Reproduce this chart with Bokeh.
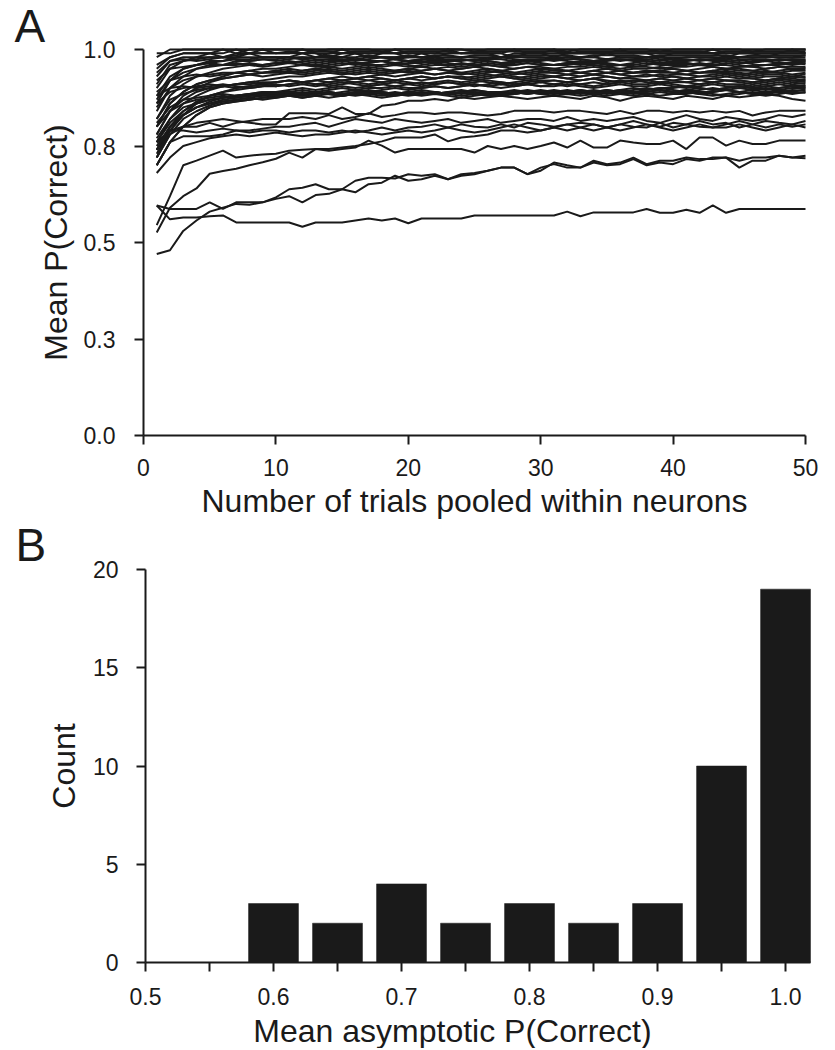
from bokeh.plotting import figure
from bokeh.layouts import column
from bokeh.models import FixedTicker, PrintfTickFormatter, Label
from bokeh.embed import file_html
from bokeh.resources import INLINE

# ---------------- data: panel A ----------------
trials = list(range(1, 51))

low_p = [0.596, 0.560, 0.565, 0.565, 0.568, 0.570, 0.552, 0.552, 0.552, 0.552,
         0.552, 0.541, 0.552, 0.552, 0.552, 0.557, 0.562, 0.557, 0.562, 0.550,
         0.562, 0.562, 0.562, 0.562, 0.570, 0.570, 0.570, 0.570, 0.570, 0.570,
         0.570, 0.580, 0.568, 0.578, 0.578, 0.578, 0.578, 0.587, 0.577, 0.577,
         0.585, 0.577, 0.596, 0.577, 0.587, 0.587, 0.587, 0.587, 0.587, 0.587]
low_r = [0.470, 0.480, 0.530, 0.557, 0.580, 0.590, 0.600, 0.598, 0.604, 0.613,
         0.620, 0.604, 0.623, 0.626, 0.638, 0.630, 0.651, 0.655, 0.673, 0.660,
         0.664, 0.673, 0.664, 0.673, 0.677, 0.686, 0.694, 0.694, 0.677, 0.694,
         0.703, 0.694, 0.694, 0.707, 0.700, 0.703, 0.716, 0.700, 0.707, 0.703,
         0.716, 0.712, 0.720, 0.720, 0.694, 0.712, 0.712, 0.725, 0.720, 0.725]
low_q = [0.596, 0.587, 0.587, 0.587, 0.604, 0.587, 0.604, 0.604, 0.604, 0.617,
         0.638, 0.642, 0.651, 0.638, 0.638, 0.660, 0.668, 0.668, 0.666, 0.677,
         0.673, 0.677, 0.664, 0.677, 0.680, 0.686, 0.694, 0.694, 0.677, 0.686,
         0.707, 0.700, 0.694, 0.712, 0.703, 0.707, 0.720, 0.703, 0.712, 0.712,
         0.720, 0.716, 0.716, 0.720, 0.712, 0.720, 0.720, 0.725, 0.720, 0.718]
low_s = [0.526, 0.590, 0.620, 0.640, 0.678, 0.685, 0.691, 0.700, 0.708, 0.717,
         0.733, 0.720, 0.742, 0.738, 0.742, 0.746, 0.764, 0.751, 0.733, 0.742,
         0.742, 0.742, 0.742, 0.742, 0.733, 0.750, 0.742, 0.750, 0.742, 0.750,
         0.759, 0.746, 0.764, 0.746, 0.746, 0.764, 0.759, 0.755, 0.755, 0.764,
         0.742, 0.772, 0.772, 0.751, 0.764, 0.755, 0.755, 0.764, 0.764, 0.764]
mid_t = [0.545, 0.620, 0.700, 0.712, 0.725, 0.738, 0.720, 0.725, 0.728, 0.730,
         0.738, 0.740, 0.742, 0.742, 0.746, 0.750, 0.755, 0.762, 0.772, 0.772,
         0.772, 0.780, 0.762, 0.772, 0.775, 0.780, 0.790, 0.790, 0.785, 0.790,
         0.798, 0.790, 0.798, 0.806, 0.798, 0.790, 0.798, 0.806, 0.798, 0.790,
         0.798, 0.806, 0.798, 0.798, 0.806, 0.798, 0.790, 0.798, 0.806, 0.798]
mid_u1 = [0.720, 0.780, 0.800, 0.810, 0.815, 0.820, 0.815, 0.810, 0.806, 0.806,
          0.835, 0.835, 0.835, 0.833, 0.850, 0.833, 0.833, 0.854, 0.858, 0.867,
          0.867, 0.872, 0.867, 0.876, 0.872, 0.876, 0.880, 0.876, 0.872, 0.876,
          0.880, 0.876, 0.872, 0.880, 0.876, 0.867, 0.876, 0.880, 0.876, 0.872,
          0.880, 0.876, 0.872, 0.880, 0.876, 0.880, 0.884, 0.880, 0.872, 0.867]
mid_u2 = [0.740, 0.790, 0.800, 0.800, 0.810, 0.800, 0.810, 0.815, 0.820, 0.820,
          0.820, 0.825, 0.820, 0.830, 0.820, 0.825, 0.835, 0.825, 0.830, 0.837,
          0.837, 0.833, 0.837, 0.837, 0.833, 0.829, 0.833, 0.841, 0.841, 0.841,
          0.837, 0.841, 0.841, 0.837, 0.833, 0.841, 0.833, 0.841, 0.841, 0.837,
          0.841, 0.837, 0.841, 0.837, 0.841, 0.829, 0.837, 0.841, 0.841, 0.841]
mid_u3 = [0.700, 0.760, 0.775, 0.775, 0.775, 0.780, 0.790, 0.790, 0.795, 0.800,
          0.800, 0.806, 0.810, 0.800, 0.810, 0.820, 0.815, 0.810, 0.820, 0.815,
          0.810, 0.815, 0.820, 0.810, 0.815, 0.820, 0.810, 0.815, 0.820, 0.820,
          0.815, 0.825, 0.815, 0.820, 0.815, 0.820, 0.825, 0.815, 0.810, 0.820,
          0.830, 0.820, 0.815, 0.825, 0.820, 0.815, 0.820, 0.830, 0.825, 0.832]
mid_u4 = [0.760, 0.790, 0.790, 0.785, 0.790, 0.795, 0.790, 0.785, 0.790, 0.790,
          0.785, 0.790, 0.790, 0.785, 0.790, 0.785, 0.790, 0.798, 0.790, 0.798,
          0.800, 0.806, 0.798, 0.806, 0.800, 0.798, 0.806, 0.798, 0.810, 0.806,
          0.800, 0.806, 0.810, 0.806, 0.798, 0.806, 0.815, 0.806, 0.800, 0.810,
          0.806, 0.815, 0.806, 0.810, 0.798, 0.806, 0.815, 0.810, 0.806, 0.815]
mid_u5 = [0.680, 0.720, 0.750, 0.760, 0.770, 0.775, 0.780, 0.775, 0.780, 0.785,
          0.780, 0.775, 0.780, 0.780, 0.785, 0.790, 0.785, 0.780, 0.785, 0.790,
          0.785, 0.790, 0.798, 0.790, 0.785, 0.790, 0.798, 0.806, 0.798, 0.790,
          0.798, 0.806, 0.798, 0.790, 0.798, 0.806, 0.800, 0.798, 0.810, 0.798,
          0.806, 0.800, 0.798, 0.806, 0.815, 0.806, 0.798, 0.806, 0.800, 0.806]

top_a01 = [0.98, 1.0, 1.0, 1.0, 1.0, 1.0, 1.0, 1.0, 1.0, 1.0,
           1.0, 1.0, 1.0, 1.0, 1.0, 1.0, 1.0, 1.0, 1.0, 1.0,
           1.0, 1.0, 1.0, 1.0, 1.0, 1.0, 1.0, 1.0, 1.0, 1.0,
           1.0, 1.0, 1.0, 1.0, 1.0, 1.0, 1.0, 1.0, 1.0, 1.0,
           1.0, 1.0, 1.0, 1.0, 1.0, 1.0, 1.0, 1.0, 1.0, 1.0]
top_a02 = [0.99, 0.99, 1.0, 1.0, 1.0, 1.0, 1.0, 1.0, 1.0, 1.0,
           1.0, 1.0, 1.0, 1.0, 1.0, 1.0, 1.0, 1.0, 1.0, 1.0,
           1.0, 1.0, 1.0, 1.0, 1.0, 1.0, 1.0, 1.0, 1.0, 1.0,
           1.0, 1.0, 1.0, 1.0, 1.0, 1.0, 1.0, 1.0, 1.0, 1.0,
           1.0, 1.0, 1.0, 1.0, 1.0, 1.0, 1.0, 1.0, 1.0, 1.0]
top_a03 = [0.96, 0.98, 0.99, 0.99, 0.99, 0.99, 1.0, 0.99, 1.0, 0.99,
           0.99, 1.0, 0.99, 0.99, 1.0, 0.99, 0.99, 0.99, 1.0, 0.99,
           0.99, 0.99, 1.0, 0.99, 0.99, 0.99, 0.99, 1.0, 0.99, 0.99,
           1.0, 0.99, 0.99, 0.99, 0.99, 1.0, 0.99, 0.99, 0.99, 0.99,
           0.99, 0.99, 1.0, 0.99, 0.99, 0.99, 0.99, 0.99, 1.0, 0.99]
top_a04 = [0.93, 0.97, 0.98, 0.98, 0.99, 0.98, 0.99, 0.99, 0.99, 0.99,
           0.99, 0.99, 0.98, 0.99, 0.99, 0.99, 0.99, 0.99, 0.99, 0.98,
           0.99, 0.99, 0.99, 0.99, 0.99, 0.99, 0.99, 0.98, 0.99, 0.99,
           0.99, 0.99, 0.99, 0.99, 0.99, 0.99, 0.99, 0.99, 0.99, 0.99,
           0.99, 0.99, 0.99, 0.98, 0.99, 0.99, 0.99, 0.99, 0.99, 0.99]
top_a05 = [0.90, 0.95, 0.97, 0.98, 0.98, 0.98, 0.98, 0.99, 0.98, 0.98,
           0.98, 0.99, 0.99, 0.98, 0.99, 0.99, 0.98, 0.99, 0.99, 0.99,
           0.99, 0.98, 0.99, 0.99, 0.99, 0.99, 0.98, 0.99, 0.99, 0.99,
           0.98, 0.99, 0.99, 0.99, 0.99, 0.99, 0.99, 0.99, 0.98, 0.99,
           0.99, 0.99, 0.99, 0.99, 0.99, 0.99, 0.98, 0.99, 0.99, 0.99]
top_a06 = [0.88, 0.93, 0.95, 0.96, 0.97, 0.97, 0.98, 0.98, 0.98, 0.98,
           0.98, 0.98, 0.98, 0.98, 0.98, 0.99, 0.98, 0.98, 0.98, 0.98,
           0.98, 0.98, 0.98, 0.98, 0.98, 0.98, 0.98, 0.98, 0.98, 0.98,
           0.98, 0.98, 0.98, 0.98, 0.99, 0.98, 0.98, 0.98, 0.98, 0.98,
           0.98, 0.98, 0.98, 0.98, 0.98, 0.98, 0.98, 0.98, 0.98, 0.985]
top_a07 = [0.86, 0.92, 0.95, 0.96, 0.965, 0.97, 0.975, 0.975, 0.98, 0.98,
           0.98, 0.975, 0.98, 0.985, 0.98, 0.98, 0.985, 0.98, 0.98, 0.985,
           0.98, 0.985, 0.985, 0.98, 0.985, 0.985, 0.98, 0.985, 0.985, 0.985,
           0.985, 0.985, 0.98, 0.985, 0.985, 0.985, 0.985, 0.98, 0.985, 0.985,
           0.985, 0.985, 0.985, 0.985, 0.98, 0.985, 0.985, 0.985, 0.985, 0.985]
top_a08 = [0.91, 0.96, 0.97, 0.975, 0.98, 0.98, 0.985, 0.99, 0.99, 0.99,
           0.995, 0.99, 0.995, 0.995, 0.99, 0.995, 0.995, 0.995, 0.99, 0.995,
           0.995, 0.995, 0.995, 0.99, 0.995, 0.995, 0.995, 0.995, 0.995, 0.995,
           0.995, 0.99, 0.995, 0.995, 0.995, 0.995, 0.995, 0.995, 0.995, 0.995,
           0.995, 0.995, 0.99, 0.995, 0.995, 0.995, 0.995, 0.995, 0.995, 0.995]
top_a09 = [0.84, 0.90, 0.93, 0.95, 0.96, 0.96, 0.97, 0.97, 0.975, 0.97,
           0.975, 0.98, 0.975, 0.975, 0.98, 0.975, 0.98, 0.98, 0.975, 0.98,
           0.98, 0.975, 0.98, 0.98, 0.98, 0.975, 0.98, 0.98, 0.98, 0.98,
           0.975, 0.98, 0.98, 0.98, 0.975, 0.98, 0.98, 0.98, 0.98, 0.975,
           0.98, 0.98, 0.98, 0.975, 0.98, 0.98, 0.98, 0.98, 0.98, 0.98]
top_a10 = [0.95, 0.98, 0.99, 0.99, 0.99, 1.0, 0.99, 1.0, 1.0, 1.0,
           1.0, 1.0, 0.995, 1.0, 1.0, 1.0, 1.0, 0.995, 1.0, 1.0,
           1.0, 1.0, 1.0, 1.0, 0.995, 1.0, 1.0, 1.0, 1.0, 1.0,
           1.0, 0.995, 1.0, 1.0, 1.0, 1.0, 1.0, 1.0, 0.995, 1.0,
           1.0, 1.0, 1.0, 1.0, 1.0, 0.995, 1.0, 1.0, 1.0, 1.0]

high_c1 = [0.82, 0.88, 0.91, 0.93, 0.94, 0.95, 0.955, 0.96, 0.96, 0.965,
           0.965, 0.97, 0.965, 0.97, 0.97, 0.975, 0.97, 0.97, 0.975, 0.97,
           0.975, 0.97, 0.975, 0.975, 0.97, 0.975, 0.98, 0.975, 0.97, 0.975,
           0.975, 0.98, 0.975, 0.97, 0.975, 0.975, 0.975, 0.98, 0.975, 0.975,
           0.97, 0.975, 0.975, 0.98, 0.975, 0.975, 0.97, 0.975, 0.975, 0.975]
high_c2 = [0.80, 0.86, 0.89, 0.91, 0.92, 0.93, 0.94, 0.945, 0.95, 0.95,
           0.955, 0.96, 0.955, 0.96, 0.965, 0.96, 0.965, 0.97, 0.965, 0.97,
           0.97, 0.965, 0.97, 0.97, 0.975, 0.97, 0.965, 0.97, 0.97, 0.97,
           0.975, 0.97, 0.965, 0.97, 0.97, 0.975, 0.97, 0.97, 0.965, 0.97,
           0.97, 0.975, 0.97, 0.97, 0.965, 0.97, 0.97, 0.975, 0.97, 0.97]
high_c3 = [0.87, 0.92, 0.94, 0.95, 0.955, 0.96, 0.96, 0.965, 0.96, 0.965,
           0.97, 0.965, 0.96, 0.965, 0.97, 0.965, 0.965, 0.97, 0.96, 0.965,
           0.965, 0.97, 0.965, 0.96, 0.965, 0.97, 0.965, 0.965, 0.97, 0.965,
           0.96, 0.965, 0.97, 0.965, 0.965, 0.96, 0.965, 0.97, 0.965, 0.965,
           0.965, 0.96, 0.965, 0.97, 0.965, 0.965, 0.97, 0.965, 0.965, 0.968]
high_c4 = [0.78, 0.84, 0.88, 0.90, 0.915, 0.925, 0.93, 0.935, 0.94, 0.945,
           0.95, 0.945, 0.95, 0.955, 0.95, 0.955, 0.96, 0.955, 0.96, 0.955,
           0.96, 0.965, 0.96, 0.955, 0.96, 0.965, 0.96, 0.96, 0.965, 0.96,
           0.96, 0.965, 0.96, 0.965, 0.96, 0.96, 0.955, 0.96, 0.965, 0.96,
           0.965, 0.96, 0.96, 0.965, 0.96, 0.955, 0.96, 0.965, 0.96, 0.965]
high_c5 = [0.92, 0.95, 0.955, 0.96, 0.965, 0.96, 0.965, 0.96, 0.955, 0.96,
           0.965, 0.96, 0.96, 0.955, 0.96, 0.965, 0.96, 0.96, 0.965, 0.96,
           0.955, 0.96, 0.96, 0.965, 0.96, 0.96, 0.955, 0.96, 0.965, 0.96,
           0.96, 0.96, 0.965, 0.96, 0.955, 0.96, 0.96, 0.965, 0.96, 0.96,
           0.96, 0.965, 0.96, 0.96, 0.955, 0.96, 0.96, 0.96, 0.965, 0.962]
high_c6 = [0.94, 0.97, 0.975, 0.97, 0.975, 0.98, 0.975, 0.97, 0.975, 0.975,
           0.98, 0.975, 0.97, 0.975, 0.975, 0.97, 0.975, 0.98, 0.975, 0.97,
           0.975, 0.975, 0.97, 0.975, 0.97, 0.975, 0.975, 0.97, 0.975, 0.975,
           0.97, 0.975, 0.975, 0.97, 0.975, 0.97, 0.975, 0.975, 0.97, 0.975,
           0.975, 0.97, 0.975, 0.975, 0.97, 0.975, 0.975, 0.97, 0.975, 0.972]

upper_d1 = [0.80, 0.86, 0.89, 0.91, 0.92, 0.925, 0.93, 0.935, 0.94, 0.94,
            0.945, 0.94, 0.945, 0.95, 0.945, 0.95, 0.955, 0.95, 0.945, 0.95,
            0.955, 0.95, 0.955, 0.95, 0.955, 0.96, 0.955, 0.95, 0.955, 0.955,
            0.95, 0.955, 0.955, 0.96, 0.955, 0.95, 0.955, 0.955, 0.95, 0.955,
            0.955, 0.96, 0.955, 0.95, 0.955, 0.955, 0.95, 0.955, 0.955, 0.955]
upper_d2 = [0.76, 0.82, 0.86, 0.88, 0.895, 0.905, 0.91, 0.915, 0.92, 0.925,
            0.93, 0.93, 0.935, 0.94, 0.935, 0.94, 0.945, 0.94, 0.945, 0.95,
            0.945, 0.95, 0.945, 0.95, 0.955, 0.95, 0.945, 0.95, 0.955, 0.95,
            0.95, 0.945, 0.95, 0.955, 0.95, 0.945, 0.95, 0.95, 0.955, 0.95,
            0.945, 0.95, 0.955, 0.95, 0.95, 0.945, 0.95, 0.955, 0.95, 0.952]
upper_d3 = [0.85, 0.90, 0.92, 0.93, 0.935, 0.94, 0.94, 0.945, 0.94, 0.945,
            0.94, 0.945, 0.95, 0.945, 0.94, 0.945, 0.95, 0.945, 0.945, 0.94,
            0.945, 0.95, 0.945, 0.94, 0.945, 0.95, 0.945, 0.94, 0.945, 0.95,
            0.945, 0.945, 0.94, 0.945, 0.95, 0.945, 0.94, 0.945, 0.945, 0.95,
            0.945, 0.94, 0.945, 0.95, 0.945, 0.945, 0.94, 0.945, 0.95, 0.948]
upper_d4 = [0.72, 0.79, 0.83, 0.86, 0.88, 0.89, 0.90, 0.905, 0.91, 0.915,
            0.92, 0.915, 0.92, 0.925, 0.93, 0.925, 0.93, 0.935, 0.93, 0.935,
            0.94, 0.935, 0.94, 0.935, 0.94, 0.945, 0.94, 0.935, 0.94, 0.945,
            0.94, 0.945, 0.94, 0.935, 0.94, 0.945, 0.94, 0.945, 0.94, 0.94,
            0.945, 0.94, 0.945, 0.94, 0.935, 0.94, 0.945, 0.94, 0.945, 0.945]
upper_d5 = [0.89, 0.92, 0.93, 0.935, 0.93, 0.935, 0.94, 0.935, 0.93, 0.935,
            0.94, 0.935, 0.94, 0.945, 0.94, 0.935, 0.94, 0.935, 0.94, 0.945,
            0.94, 0.935, 0.94, 0.94, 0.935, 0.94, 0.945, 0.94, 0.935, 0.94,
            0.94, 0.935, 0.94, 0.945, 0.94, 0.935, 0.94, 0.94, 0.945, 0.94,
            0.935, 0.94, 0.94, 0.945, 0.94, 0.935, 0.94, 0.94, 0.935, 0.94]
upper_d6 = [0.74, 0.80, 0.84, 0.865, 0.88, 0.89, 0.895, 0.90, 0.905, 0.905,
            0.91, 0.915, 0.91, 0.915, 0.92, 0.915, 0.92, 0.925, 0.92, 0.925,
            0.93, 0.925, 0.93, 0.925, 0.93, 0.935, 0.93, 0.925, 0.93, 0.935,
            0.93, 0.935, 0.93, 0.935, 0.94, 0.935, 0.93, 0.935, 0.93, 0.935,
            0.935, 0.93, 0.935, 0.94, 0.935, 0.93, 0.935, 0.935, 0.93, 0.936]

band_e1 = [0.78, 0.84, 0.87, 0.89, 0.90, 0.905, 0.91, 0.91, 0.915, 0.915,
           0.92, 0.915, 0.92, 0.925, 0.92, 0.925, 0.93, 0.925, 0.92, 0.925,
           0.93, 0.925, 0.93, 0.93, 0.925, 0.93, 0.935, 0.93, 0.925, 0.93,
           0.93, 0.925, 0.93, 0.935, 0.93, 0.925, 0.93, 0.93, 0.935, 0.93,
           0.925, 0.93, 0.93, 0.935, 0.93, 0.925, 0.93, 0.93, 0.925, 0.93]
band_e2 = [0.86, 0.89, 0.90, 0.905, 0.91, 0.905, 0.91, 0.915, 0.91, 0.915,
           0.92, 0.915, 0.92, 0.915, 0.92, 0.925, 0.92, 0.915, 0.92, 0.925,
           0.92, 0.925, 0.93, 0.925, 0.92, 0.925, 0.93, 0.925, 0.92, 0.925,
           0.93, 0.925, 0.92, 0.925, 0.93, 0.925, 0.925, 0.92, 0.925, 0.93,
           0.925, 0.92, 0.925, 0.93, 0.925, 0.925, 0.92, 0.925, 0.93, 0.927]
band_e3 = [0.73, 0.79, 0.83, 0.85, 0.865, 0.875, 0.88, 0.885, 0.89, 0.89,
           0.895, 0.90, 0.895, 0.90, 0.905, 0.90, 0.905, 0.91, 0.905, 0.91,
           0.915, 0.91, 0.915, 0.91, 0.915, 0.92, 0.915, 0.91, 0.915, 0.92,
           0.92, 0.915, 0.92, 0.925, 0.92, 0.915, 0.92, 0.92, 0.925, 0.92,
           0.915, 0.92, 0.925, 0.92, 0.92, 0.915, 0.92, 0.925, 0.92, 0.923]
band_e4 = [0.82, 0.87, 0.885, 0.895, 0.90, 0.905, 0.90, 0.905, 0.91, 0.905,
           0.91, 0.915, 0.91, 0.905, 0.91, 0.915, 0.91, 0.915, 0.92, 0.915,
           0.91, 0.915, 0.92, 0.915, 0.92, 0.915, 0.91, 0.915, 0.92, 0.915,
           0.92, 0.915, 0.92, 0.925, 0.915, 0.92, 0.915, 0.92, 0.915, 0.92,
           0.925, 0.92, 0.915, 0.92, 0.92, 0.915, 0.92, 0.925, 0.92, 0.92]
band_e5 = [0.70, 0.76, 0.80, 0.83, 0.85, 0.86, 0.865, 0.87, 0.875, 0.88,
           0.88, 0.885, 0.89, 0.885, 0.89, 0.895, 0.89, 0.895, 0.90, 0.895,
           0.90, 0.905, 0.90, 0.905, 0.91, 0.905, 0.91, 0.905, 0.91, 0.915,
           0.91, 0.905, 0.91, 0.915, 0.91, 0.915, 0.92, 0.915, 0.91, 0.915,
           0.915, 0.91, 0.915, 0.92, 0.915, 0.91, 0.915, 0.92, 0.915, 0.917]
band_e6 = [0.88, 0.90, 0.905, 0.90, 0.905, 0.91, 0.905, 0.90, 0.905, 0.91,
           0.905, 0.91, 0.905, 0.91, 0.915, 0.91, 0.905, 0.91, 0.915, 0.91,
           0.905, 0.91, 0.915, 0.91, 0.905, 0.91, 0.915, 0.91, 0.91, 0.905,
           0.91, 0.915, 0.91, 0.905, 0.91, 0.915, 0.91, 0.91, 0.915, 0.91,
           0.905, 0.91, 0.915, 0.91, 0.91, 0.905, 0.91, 0.915, 0.91, 0.913]
band_e7 = [0.76, 0.81, 0.84, 0.86, 0.87, 0.875, 0.88, 0.885, 0.885, 0.89,
           0.89, 0.895, 0.89, 0.895, 0.90, 0.895, 0.90, 0.90, 0.905, 0.90,
           0.90, 0.905, 0.90, 0.905, 0.91, 0.905, 0.90, 0.905, 0.91, 0.905,
           0.905, 0.91, 0.905, 0.90, 0.905, 0.91, 0.905, 0.905, 0.91, 0.905,
           0.90, 0.905, 0.91, 0.905, 0.905, 0.90, 0.905, 0.91, 0.905, 0.908]

band_b1 = [0.70, 0.76, 0.80, 0.83, 0.85, 0.86, 0.865, 0.87, 0.875, 0.875,
           0.88, 0.875, 0.88, 0.885, 0.88, 0.885, 0.89, 0.885, 0.88, 0.885,
           0.89, 0.885, 0.89, 0.885, 0.89, 0.885, 0.88, 0.885, 0.89, 0.885,
           0.89, 0.885, 0.89, 0.885, 0.88, 0.885, 0.89, 0.885, 0.89, 0.885,
           0.885, 0.89, 0.885, 0.88, 0.885, 0.89, 0.885, 0.89, 0.885, 0.89]
band_b2 = [0.72, 0.78, 0.82, 0.84, 0.855, 0.865, 0.87, 0.875, 0.88, 0.88,
           0.885, 0.88, 0.885, 0.89, 0.885, 0.89, 0.885, 0.88, 0.885, 0.89,
           0.885, 0.89, 0.885, 0.89, 0.895, 0.89, 0.885, 0.89, 0.885, 0.89,
           0.885, 0.89, 0.895, 0.89, 0.885, 0.89, 0.885, 0.89, 0.895, 0.89,
           0.89, 0.885, 0.89, 0.895, 0.89, 0.885, 0.89, 0.89, 0.895, 0.893]
band_b3 = [0.75, 0.80, 0.83, 0.85, 0.86, 0.87, 0.875, 0.88, 0.88, 0.885,
           0.885, 0.89, 0.885, 0.89, 0.885, 0.89, 0.895, 0.89, 0.885, 0.89,
           0.895, 0.89, 0.885, 0.89, 0.895, 0.89, 0.89, 0.885, 0.89, 0.895,
           0.89, 0.895, 0.89, 0.885, 0.89, 0.895, 0.89, 0.89, 0.895, 0.89,
           0.895, 0.89, 0.89, 0.895, 0.90, 0.895, 0.89, 0.895, 0.89, 0.897]
band_b4 = [0.77, 0.82, 0.85, 0.86, 0.87, 0.875, 0.88, 0.88, 0.885, 0.885,
           0.89, 0.885, 0.89, 0.885, 0.88, 0.885, 0.89, 0.885, 0.89, 0.885,
           0.89, 0.885, 0.89, 0.895, 0.89, 0.885, 0.89, 0.895, 0.89, 0.89,
           0.895, 0.89, 0.885, 0.89, 0.895, 0.89, 0.89, 0.895, 0.90, 0.895,
           0.89, 0.895, 0.90, 0.895, 0.89, 0.895, 0.90, 0.895, 0.90, 0.90]
band_b5 = [0.80, 0.84, 0.86, 0.87, 0.875, 0.88, 0.875, 0.88, 0.885, 0.88,
           0.885, 0.88, 0.885, 0.89, 0.885, 0.88, 0.885, 0.89, 0.885, 0.89,
           0.885, 0.89, 0.885, 0.88, 0.885, 0.89, 0.885, 0.89, 0.895, 0.89,
           0.885, 0.89, 0.895, 0.89, 0.895, 0.89, 0.895, 0.90, 0.895, 0.89,
           0.895, 0.90, 0.895, 0.90, 0.905, 0.90, 0.895, 0.90, 0.905, 0.902]
band_b6 = [0.81, 0.85, 0.87, 0.875, 0.88, 0.885, 0.88, 0.885, 0.89, 0.885,
           0.89, 0.885, 0.89, 0.885, 0.88, 0.885, 0.885, 0.89, 0.885, 0.88,
           0.885, 0.89, 0.885, 0.89, 0.885, 0.88, 0.885, 0.89, 0.885, 0.89,
           0.89, 0.885, 0.89, 0.895, 0.89, 0.895, 0.90, 0.895, 0.90, 0.90,
           0.905, 0.90, 0.895, 0.90, 0.905, 0.90, 0.905, 0.90, 0.905, 0.905]
band_b7 = [0.74, 0.80, 0.83, 0.85, 0.86, 0.865, 0.87, 0.875, 0.87, 0.875,
           0.88, 0.875, 0.88, 0.875, 0.88, 0.885, 0.88, 0.875, 0.88, 0.885,
           0.88, 0.885, 0.88, 0.875, 0.88, 0.885, 0.88, 0.885, 0.89, 0.885,
           0.88, 0.885, 0.88, 0.885, 0.89, 0.885, 0.88, 0.885, 0.88, 0.885,
           0.89, 0.885, 0.88, 0.885, 0.89, 0.885, 0.88, 0.885, 0.89, 0.888]

neuron_curves = [low_p, low_r, low_q, low_s, mid_t, mid_u1, mid_u2, mid_u3, mid_u4, mid_u5,
                 top_a01, top_a02, top_a03, top_a04, top_a05, top_a06, top_a07, top_a08, top_a09, top_a10,
                 high_c1, high_c2, high_c3, high_c4, high_c5, high_c6,
                 upper_d1, upper_d2, upper_d3, upper_d4, upper_d5, upper_d6,
                 band_e1, band_e2, band_e3, band_e4, band_e5, band_e6, band_e7,
                 band_b1, band_b2, band_b3, band_b4, band_b5, band_b6, band_b7]
for c in neuron_curves:
    assert len(c) == len(trials), len(c)

x_ticks_a = [0, 10, 20, 30, 40, 50]
y_ticks_a = [0.0, 0.25, 0.5, 0.75, 1.0]
y_tick_labels_a = ["0.0", "0.3", "0.5", "0.8", "1.0"]

# ---------------- data: panel B ----------------
bin_centers = [0.60, 0.65, 0.70, 0.75, 0.80, 0.85, 0.90, 0.95, 1.00]
bin_counts = [3, 2, 4, 2, 3, 2, 3, 10, 19]
x_ticks_b = [0.5, 0.6, 0.7, 0.8, 0.9, 1.0]
x_tick_labels_b = ["0.5", "0.6", "0.7", "0.8", "0.9", "1.0"]
x_minor_ticks_b = [0.55, 0.65, 0.75, 0.85, 0.95]
y_ticks_b = [0, 5, 10, 15, 20]

# ---------------- style / geometry ----------------
FONT = "Liberation Sans"
INK = "#1a1a1a"
W = 830
BASELINE_FIX = 18  # px: Bokeh draws alphabetic-baseline labels this much lower


def frame_ranges(height, left, right, top, bottom, xa, xb, ya, yb):
    """Extend data ranges so the data box [xa,xb]x[ya,yb] sits at the given pixel box."""
    kx = (right - left) / (xb - xa)
    ky = (bottom - top) / (yb - ya)
    xr = (xa - left / kx, xb + (W - right) / kx)
    yr = (ya - (height - bottom) / ky, yb + top / ky)
    return xr, yr, kx, ky


def style_axis(ax, s1, s2):
    ax.axis_line_width = 2
    ax.axis_line_color = INK
    ax.major_tick_line_width = 2
    ax.major_tick_line_color = INK
    ax.major_tick_in = 0
    ax.major_tick_out = 9
    ax.minor_tick_line_color = None
    ax.major_label_text_font = FONT
    ax.major_label_text_font_size = "23px"
    ax.major_label_text_color = INK
    ax.axis_label_text_font = FONT
    ax.axis_label_text_font_size = "32px"
    ax.axis_label_text_font_style = "normal"
    ax.axis_label_text_color = INK
    ax.major_label_standoff = s1
    ax.axis_label_standoff = s2


# ---------------- panel A ----------------
HA = 519
xr_a, yr_a, kxa, kya = frame_ranges(HA, 143, 805, 49, 435, 0, 50, 0, 1)
pa = figure(width=W, height=HA, x_range=xr_a, y_range=yr_a,
            output_backend="svg", toolbar_location=None, min_border=0)
pa.outline_line_color = None
pa.grid.visible = False
pa.multi_line(xs=[trials] * len(neuron_curves), ys=neuron_curves,
              line_color=INK, line_width=2.0)

pa.xaxis.ticker = FixedTicker(ticks=x_ticks_a)
pa.yaxis.ticker = FixedTicker(ticks=y_ticks_a)
pa.yaxis.formatter = PrintfTickFormatter(format="%.1f")
pa.yaxis.major_label_overrides = dict(zip(y_ticks_a, y_tick_labels_a))
pa.xaxis.axis_label = "Number of trials pooled within neurons"
pa.yaxis.axis_label = "Mean P(Correct)"
pa.xaxis.fixed_location = 0
pa.yaxis.fixed_location = 0
pa.xaxis.bounds = (0, 50)
pa.yaxis.bounds = (0, 1)
style_axis(pa.xaxis[0], 14, 4)
style_axis(pa.yaxis[0], 19, 7)

pa.add_layout(Label(x=0 + (14 - 143) / kxa, y=1 + (49 - 43 + BASELINE_FIX) / kya, text="A",
                    text_font=FONT, text_font_size="46px", text_color=INK,
                    text_align="left", text_baseline="alphabetic"))

# ---------------- panel B ----------------
HB = 529
TOP_B = 569 - HA   # frame top of panel B inside its own canvas
BOT_B = 962 - HA
xr_b, yr_b, kxb, kyb = frame_ranges(HB, 145, 810, TOP_B, BOT_B, 0.5, 1.0195, 0, 20)
pb = figure(width=W, height=HB, x_range=xr_b, y_range=yr_b,
            output_backend="svg", toolbar_location=None, min_border=0)
pb.outline_line_color = None
pb.grid.visible = False
pb.vbar(x=bin_centers, top=bin_counts, width=0.039, bottom=0,
        fill_color=INK, line_color=INK, line_width=0.5)

pb.xaxis.ticker = FixedTicker(ticks=x_ticks_b, minor_ticks=x_minor_ticks_b)
pb.xaxis.formatter = PrintfTickFormatter(format="%.1f")
pb.xaxis.major_label_overrides = dict(zip(x_ticks_b, x_tick_labels_b))
pb.yaxis.ticker = FixedTicker(ticks=y_ticks_b)
pb.yaxis.axis_label = "Count"
pb.xaxis.fixed_location = 0
pb.yaxis.fixed_location = 0.5
pb.xaxis.bounds = (0.5, 1.0195)
pb.yaxis.bounds = (0, 20)
style_axis(pb.xaxis[0], 16, 4)
style_axis(pb.yaxis[0], 18, 8)
pb.xaxis.minor_tick_line_color = INK
pb.xaxis.minor_tick_line_width = 2
pb.xaxis.minor_tick_in = 0
pb.xaxis.minor_tick_out = 9

# x-axis title of panel B sits left of the axis centre in the original
pb.add_layout(Label(x=0.5 + (452 - 145) / kxb, y=0 - (1030 - 962) / kyb,
                    text="Mean asymptotic P(Correct)",
                    text_font=FONT, text_font_size="32px", text_color=INK,
                    text_align="center", text_baseline="middle"))

# panel letter: baseline kept low enough that its text box stays inside the canvas
B_BASELINE = HA + 43
pb.add_layout(Label(x=0.5 + (15 - 145) / kxb, y=20 + (569 - B_BASELINE + BASELINE_FIX) / kyb,
                    text="B", text_font=FONT, text_font_size="46px", text_color=INK,
                    text_align="left", text_baseline="alphabetic"))

layout = column(pa, pb, spacing=0)
open("out.html", "w").write(file_html(layout, INLINE, "Figure"))
